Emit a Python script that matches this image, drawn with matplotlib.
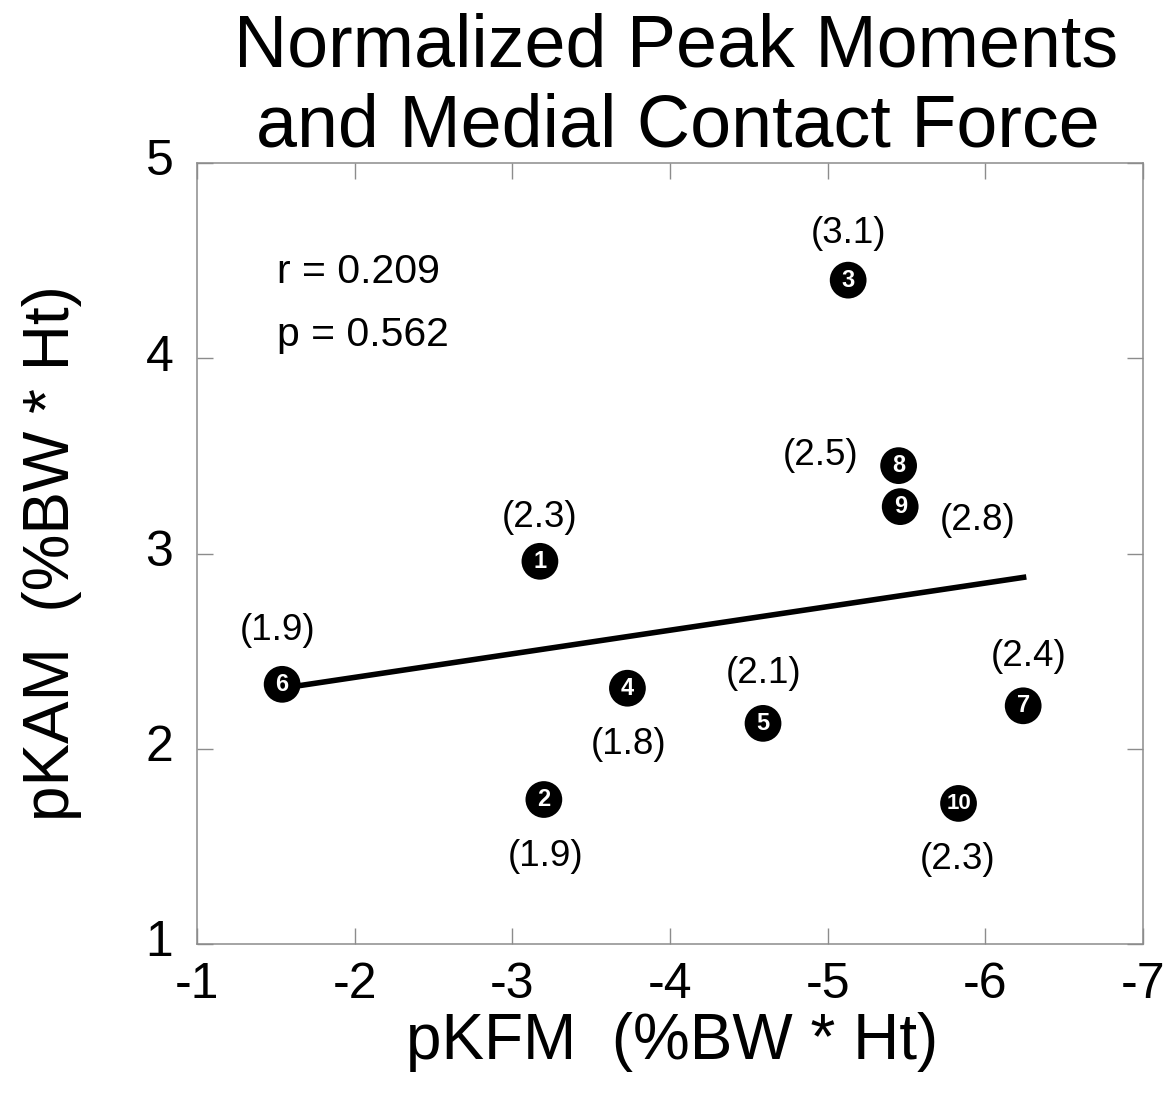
import matplotlib
matplotlib.use("Agg")
import matplotlib.pyplot as plt
import numpy as np
from matplotlib.transforms import offset_copy, ScaledTranslation

plt.rcParams['font.family'] = ['Liberation Sans', 'DejaVu Sans']

# Data
subject_ids = ['1', '2', '3', '4', '5', '6', '7', '8', '9', '10']
pkfm = [-3.175, -3.20, -5.13, -3.73, -4.59, -1.54, -6.24, -5.45, -5.46, -5.83]
pkam = [2.96, 1.74, 4.40, 2.31, 2.13, 2.33, 2.22, 3.45, 3.24, 1.72]
mcf_labels = ['(2.3)', '(1.9)', '(3.1)', '(1.8)', '(2.1)', '(1.9)', '(2.4)', '(2.5)', '(2.8)', '(2.3)']
fit_x = [-1.54, -6.26]
fit_y = [2.31, 2.88]
x_ticks = [-1, -2, -3, -4, -5, -6, -7]
y_ticks = [1, 2, 3, 4, 5]

# label offsets in pixels (dx, dy), positive dy = up
label_offsets = [(0, 44), (2, -57), (0, 47), (1, -56), (1, 50), (-5, 54), (5, 49), (-78, 10), (77, -14), (-1, -56)]

W, H, DPI = 1174, 1098, 100
fig = plt.figure(figsize=(W / DPI, H / DPI), dpi=DPI)
ax = fig.add_axes([197 / W, 1 - 944 / H, (1143 - 197) / W, (944 - 163) / H])

ax.set_xlim(-1, -7)
ax.set_ylim(1, 5)
ax.set_xticks(x_ticks)
ax.set_yticks(y_ticks)
ax.set_xticklabels([str(t) for t in x_ticks])
ax.set_yticklabels([str(t) for t in y_ticks])

for s in ax.spines.values():
    s.set_color('#8c8c8c')
    s.set_linewidth(1.1)
ax.tick_params(direction='in', length=11.5, width=1.0, color='#8c8c8c',
               labelsize=36, top=True, right=True)
ax.tick_params(axis='y', pad=17)
ax.tick_params(axis='x', pad=13)
for lbl in ax.get_yticklabels():
    lbl.set_transform(lbl.get_transform() + ScaledTranslation(0, 4 / 72, fig.dpi_scale_trans))

ax.plot(fit_x, fit_y, color='black', linewidth=4, zorder=2, solid_capstyle='butt')
ax.scatter(pkfm, pkam, s=700, color='black', zorder=3, edgecolors='none')

for sid, x, y in zip(subject_ids, pkfm, pkam):
    ax.text(x, y, sid, color='white', fontsize=17 if len(sid) == 1 else 16,
            fontweight='bold', ha='center', va='center', zorder=4)

for lab, x, y, (dx, dy) in zip(mcf_labels, pkfm, pkam, label_offsets):
    tr = offset_copy(ax.transData, fig=fig, x=dx, y=dy, units='dots')
    ax.text(x, y, lab, transform=tr, fontsize=26.5, ha='center', va='center', zorder=4)

fig.text(277 / W, 1 - 272 / H, 'r = 0.209', fontsize=29.5, ha='left', va='center')
fig.text(277 / W, 1 - 335 / H, 'p = 0.562', fontsize=29.5, ha='left', va='center')

fig.text(676 / W, 1 - 47 / H, 'Normalized Peak Moments', fontsize=53, ha='center', va='center')
fig.text(678 / W, 1 - 127 / H, 'and Medial Contact Force', fontsize=53, ha='center', va='center')
fig.text(672 / W, 1 - 1042 / H, 'pKFM  (%BW * Ht)', fontsize=46, ha='center', va='center')
fig.text(52 / W, 1 - 553 / H, 'pKAM  (%BW * Ht)', fontsize=46, ha='center', va='center',
         rotation=90)

fig.savefig('out.png', dpi=DPI, facecolor='white')
